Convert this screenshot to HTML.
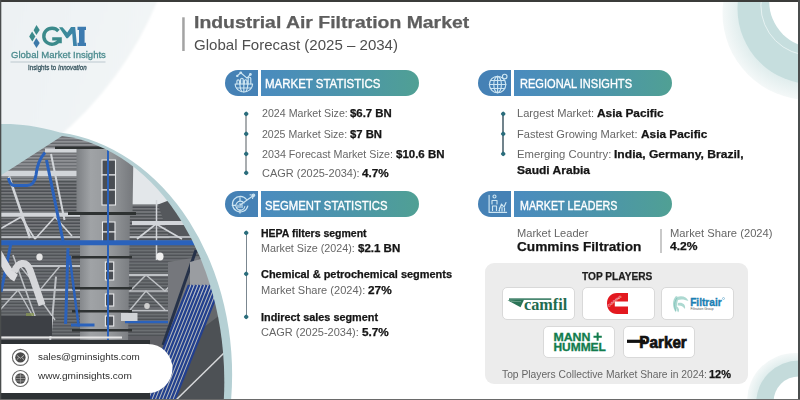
<!DOCTYPE html>
<html><head><meta charset="utf-8">
<style>
*{margin:0;padding:0;box-sizing:border-box}
html,body{width:800px;height:400px;overflow:hidden;background:#fff}
body{position:relative;font-family:"Liberation Sans",sans-serif}
.t{position:absolute;white-space:nowrap;line-height:1;transform-origin:0 0}
.t b{color:#111;font-weight:700}
.abs{position:absolute}
.pill{position:absolute;height:26px;border-radius:13px;overflow:hidden;display:flex}
.pill .ic{width:33px;background:#4581b5;flex:none}
.pill .sep{width:3px;background:#fff;flex:none}
.pill .tx{flex:1;background:linear-gradient(90deg,#4a8bbf 0%,#4c95aa 55%,#50a094 100%)}
.rail{position:absolute;width:1.6px;background:#a9adb0}
.dot{position:absolute;width:4.4px;height:4.4px;background:#2b6d7c;transform:rotate(45deg);border-radius:1.3px}
.logo{position:absolute;background:#fff;border:1px solid #d9d9d9;border-radius:5px}
</style></head><body>
<svg class="abs" style="left:0;top:0" width="800" height="400" viewBox="0 0 800 400">
  <defs>
    <linearGradient id="bgl" x1="0" y1="0" x2="1" y2="0.3">
      <stop offset="0" stop-color="#ecf1f3"/>
      <stop offset="1" stop-color="#f2f5f6"/>
    </linearGradient>
    <clipPath id="photoclip"><path d="M0,176 L62,136.1 A177.8,246.3 0 0,1 223.8,400 L0,400 Z"/></clipPath>
    <linearGradient id="duct" x1="0" y1="0" x2="1" y2="0">
      <stop offset="0" stop-color="#7c7f83"/>
      <stop offset="0.25" stop-color="#a0a3a6"/>
      <stop offset="0.6" stop-color="#95989b"/>
      <stop offset="1" stop-color="#75787c"/>
    </linearGradient>
    <linearGradient id="photobg" x1="0" y1="0" x2="0" y2="1">
      <stop offset="0" stop-color="#76787b"/>
      <stop offset="0.5" stop-color="#5a5c60"/>
      <stop offset="1" stop-color="#3e4044"/>
    </linearGradient>
    <pattern id="roof" width="10" height="3.2" patternUnits="userSpaceOnUse">
      <rect width="10" height="3.2" fill="#8f9195"/>
      <rect y="1.9" width="10" height="1.3" fill="#63666a"/>
    </pattern>
    <pattern id="roofm" width="10" height="3.2" patternUnits="userSpaceOnUse">
      <rect width="10" height="3.2" fill="#76787c"/>
      <rect y="1.7" width="10" height="1.5" fill="#4c4f53"/>
    </pattern>
    <pattern id="roof2" width="10" height="3.2" patternUnits="userSpaceOnUse">
      <rect width="10" height="3.2" fill="#6c6f73"/>
      <rect y="1.9" width="10" height="1.3" fill="#4f5256"/>
    </pattern>
    <filter id="blur1" x="-10%" y="-10%" width="120%" height="120%"><feGaussianBlur stdDeviation="1.2"/></filter>
    <filter id="soft" x="-5%" y="-5%" width="110%" height="110%"><feGaussianBlur stdDeviation="0.45"/></filter>
    <radialGradient id="ringfade" cx="809.2" cy="13.2" r="86.7" gradientUnits="userSpaceOnUse">
      <stop offset="0.8" stop-color="#e0eded"/>
      <stop offset="1" stop-color="#f4f8f8"/>
    </radialGradient>
    <radialGradient id="ringfade2" cx="795" cy="401" r="48" gradientUnits="userSpaceOnUse">
      <stop offset="0.8" stop-color="#e0eded"/>
      <stop offset="1" stop-color="#f4f8f8"/>
    </radialGradient>
  </defs>
  <!-- top-left light bg -->
  <path d="M-10,-10 L162,-10 L157.8,0 A359.5,359.5 0 0 1 55,140 L-10,150 Z" fill="url(#bgl)" filter="url(#blur1)"/>
  <!-- top-right rings -->
  <circle cx="809.2" cy="13.2" r="86.7" fill="url(#ringfade)"/>
  <circle cx="812.8" cy="8.8" r="75.3" fill="#c6dede"/>
  <circle cx="811" cy="5.3" r="50.1" fill="none" stroke="#eaf4f4" stroke-width="0.9"/>
  <circle cx="815.5" cy="1.4" r="46.3" fill="#fff"/>
  <!-- bottom-right rings -->
  <circle cx="795" cy="401" r="48" fill="url(#ringfade2)"/>
  <circle cx="799.2" cy="403.5" r="43.1" fill="#c4dbdb"/>
  <circle cx="799" cy="401.8" r="25.4" fill="#fff"/>
  <!-- teal crescent -->
  <path d="M0,124 C15,123.5 35,125 60,132.5 A192.6,243.7 0 0,1 231.1,400 L0,400 Z" fill="#b5d0d4"/>
  <!-- photo -->
  <g clip-path="url(#photoclip)">
   <g filter="url(#soft)">
    <rect x="0" y="120" width="240" height="280" fill="#5e6165"/>
    <rect x="0" y="130" width="240" height="112" fill="url(#roof)"/>
    <rect x="0" y="180" width="240" height="62" fill="url(#roofm)"/>
    <rect x="0" y="246" width="240" height="90" fill="url(#roof2)"/>
    <!-- sky -->
    <polygon points="132,150 175,150 175,200 162,204.5 132,204.5" fill="#e3e7ea"/>
    <polygon points="158,204.5 175,198 200,240 170,240" fill="#55585c"/>
    <!-- trusses upper -->
    <g stroke="#d2d5d9" fill="none">
      <line x1="45" y1="150.5" x2="80" y2="150.5" stroke-width="4"/>
      <line x1="0" y1="173.5" x2="80" y2="173.5" stroke-width="5"/>
      <line x1="0" y1="214.8" x2="80" y2="214.8" stroke-width="4"/>
      <line x1="132" y1="223" x2="200" y2="223" stroke-width="4"/>
      <line x1="0" y1="237" x2="200" y2="237" stroke-width="1.4"/>
      <path d="M0,229 L21,217 M35,239 L21,217 M35,239 L55,217 L72,236" stroke-width="1.6"/>
      <path d="M137,239 L156,224 L182,239" stroke-width="1.6"/>
      <line x1="156.5" y1="200" x2="156.5" y2="260" stroke-width="1.5"/>
      <line x1="9" y1="176.5" x2="30" y2="238" stroke-width="2.5"/>
      <line x1="51" y1="154" x2="64.5" y2="220" stroke-width="2"/>
    </g>
    <!-- trusses lower -->
    <g stroke="#bfc2c6" fill="none">
      <line x1="15" y1="266" x2="84" y2="266" stroke-width="2"/>
      <line x1="0" y1="290" x2="86" y2="290" stroke-width="2.2"/>
      <line x1="0" y1="299" x2="86" y2="299" stroke-width="1.4"/>
      <line x1="125" y1="275" x2="190" y2="275" stroke-width="2.2"/>
      <line x1="125" y1="291" x2="180" y2="291" stroke-width="1.6"/>
      <line x1="125" y1="310.5" x2="175" y2="310.5" stroke-width="1.5"/>
      <path d="M20,266 L40,290 L60,266 M0,310 L18,290 L35,320 M40,299 L55,320" stroke-width="1.4"/>
      <path d="M130,291 L146,275 L165,291 L180,275 M130,310 L146,291 L165,310" stroke-width="1.4"/>
      <line x1="56" y1="276.7" x2="50" y2="342" stroke-width="2"/>
      <line x1="13" y1="255" x2="40" y2="330" stroke-width="1.6"/>
    </g>
    <!-- duct -->
    <path d="M76.5,149 L133.5,149 L132.5,213 L130,213 L128,345 L80,345 L80,213 L76.5,213 Z" fill="url(#duct)"/>
    <g fill="#2f3033">
      <rect x="55" y="146.5" width="82" height="2.5"/>
      <rect x="68" y="212" width="68" height="3"/>
      <rect x="72" y="256" width="60" height="2.5"/>
      <rect x="72" y="287" width="60" height="2.5"/>
      <rect x="72" y="310" width="60" height="2.5"/>
      <rect x="72" y="329" width="60" height="2.5"/>
    </g>
    <g fill="#4a4d52" stroke="#e6e8ea" stroke-width="1.1">
      <rect x="102" y="160" width="13.5" height="15"/>
      <rect x="102" y="175" width="13.5" height="15"/>
      <rect x="102" y="190" width="13.5" height="15"/>
      <rect x="102.5" y="222" width="12.5" height="10"/>
      <rect x="102.5" y="232" width="12.5" height="10"/>
      <rect x="105.4" y="262" width="8.3" height="9"/>
      <rect x="105.4" y="271" width="8.3" height="9"/>
      <rect x="105.4" y="294" width="8.3" height="12"/>
      <rect x="105.4" y="316" width="8.3" height="10"/>
    </g>
    <!-- blue -->
    <g fill="none" stroke="#2b62bc">
      <line x1="0" y1="242.8" x2="200" y2="242.8" stroke-width="5"/>
      <line x1="108" y1="140" x2="108" y2="345" stroke-width="2"/>
      <path d="M45,152.5 C40,158 37,166 36,175 C35,182 32,185.5 27,185.5 L14,185.5 C10,185 9,181 8.4,178" stroke-width="3"/>
      <line x1="46.5" y1="160" x2="63" y2="241" stroke-width="3"/>
      <line x1="11" y1="243" x2="1" y2="292" stroke-width="3"/>
      <line x1="68" y1="248" x2="65.6" y2="324" stroke-width="3"/>
      <line x1="69.5" y1="255.7" x2="78.7" y2="326.6" stroke-width="2.5"/>
      <line x1="71" y1="325" x2="94.5" y2="325" stroke-width="3"/>
      <line x1="125" y1="322" x2="190" y2="322" stroke-width="2.5"/>
    </g>
    <!-- white hose -->
    <path d="M-2,253 C4,262 8,274 16,278" fill="none" stroke="#dcdde0" stroke-width="8"/>
    <path d="M14,272 C18,262 26,260 30,270 L42,305" fill="none" stroke="#d6d7da" stroke-width="7"/>
    <rect x="26" y="313" width="8" height="8" fill="#8a9a50" opacity="0.7"/>
    <!-- lights -->
    <ellipse cx="39.5" cy="257" rx="3.2" ry="3.6" fill="#e6e6e6"/>
    <ellipse cx="160" cy="256.5" rx="3.6" ry="4" fill="#f0f0f0"/>
    <ellipse cx="147" cy="306" rx="2.8" ry="3" fill="#cfcfcf"/>
    <rect x="121" y="313" width="16.5" height="8" fill="#d0d3d6"/>
    <!-- right building -->
    <polygon points="168,262 240,250 240,400 168,400" fill="#74777b"/>
    <polygon points="194.5,281 208.8,276 208.8,309 194.5,309" fill="#a6a9ac"/>
    <line x1="196" y1="250" x2="163" y2="345" stroke="#26324a" stroke-width="3"/>
    <polygon points="165,345 200,255 240,250 240,400 150,400" fill="#65686c"/>
    <polygon points="200,330 240,300 240,400 170,400" fill="#4e5155"/>
    <polygon points="190,262 215,255 215,290 190,300" fill="#9a9da1"/>
    <g stroke="#233f8f" stroke-width="2.3">
      <line x1="189.0" y1="285" x2="143.0" y2="400"/>
      <line x1="192.5" y1="285" x2="146.5" y2="400"/>
      <line x1="196.0" y1="285" x2="150.0" y2="400"/>
      <line x1="199.5" y1="285" x2="153.5" y2="400"/>
      <line x1="203.0" y1="285" x2="157.0" y2="400"/>
      <line x1="206.5" y1="285" x2="160.5" y2="400"/>
      <line x1="210.0" y1="285" x2="164.0" y2="400"/>
      <line x1="213.5" y1="285" x2="167.5" y2="400"/>
      <line x1="217.0" y1="285" x2="171.0" y2="400"/>
      <line x1="220.5" y1="285" x2="174.5" y2="400"/>
    </g>
    <g stroke="#b9c3d3" stroke-width="0.9">
      <line x1="190.8" y1="285" x2="144.8" y2="400"/>
      <line x1="194.2" y1="285" x2="148.2" y2="400"/>
      <line x1="197.8" y1="285" x2="151.8" y2="400"/>
      <line x1="201.2" y1="285" x2="155.2" y2="400"/>
      <line x1="204.8" y1="285" x2="158.8" y2="400"/>
      <line x1="208.2" y1="285" x2="162.2" y2="400"/>
      <line x1="211.8" y1="285" x2="165.8" y2="400"/>
      <line x1="215.2" y1="285" x2="169.2" y2="400"/>
      <line x1="218.8" y1="285" x2="172.8" y2="400"/>
    </g>
    <line x1="225" y1="352" x2="176" y2="400" stroke="#d6d8da" stroke-width="1.5"/>
    <rect x="0" y="316" width="52" height="20" fill="#3e4044"/>
    <rect x="0" y="340" width="150" height="60" fill="#2f3135"/>
    <line x1="0" y1="337.5" x2="122" y2="337.5" stroke="#e6e6e6" stroke-width="1.8"/>
   </g>
  </g>
  <!-- contact pill -->
  <path d="M0,344 L148,344 A24.5,24.5 0 0 1 148,393 L0,393 Z" fill="#fff"/>
  <g>
    <circle cx="20.4" cy="357.4" r="8" fill="none" stroke="#666" stroke-width="1.1"/>
    <circle cx="20.4" cy="357.4" r="5.2" fill="#4a4a4a"/>
    <path d="M16.8,355.3 L20.4,358.3 L24,355.3 M16.8,359.6 L18.8,357.8 M24,359.6 L22,357.8" stroke="#ddd" stroke-width="0.7" fill="none"/>
    <circle cx="20.4" cy="378.5" r="8" fill="none" stroke="#666" stroke-width="1.1"/>
    <circle cx="20.4" cy="378.5" r="5.2" fill="#4a4a4a"/>
    <path d="M15.2,378.5 H25.6 M20.4,373.3 V383.7 M16,376 H24.8 M16,381 H24.8" stroke="#bbb" stroke-width="0.6" fill="none"/>
  </g>
  <!-- header bar -->
  <rect x="182.2" y="17.3" width="2.5" height="33.7" fill="#a3a3a3"/>
  <!-- logo -->
  <polygon points="36.5,25.1 39.7,30 36.4,34.9 33.6,30.2" fill="#3b8a8b"/>
  <polygon points="32.1,31.4 35.4,36.4 32.3,41.6 29.2,36.6" fill="#3b8a8b"/>
  <polygon points="36.3,38.1 39.7,43 36.5,47.9 33.4,43" fill="#3c79a9"/>
  <rect x="10.5" y="61.6" width="95" height="0.8" fill="#aebfc6"/>
  <!-- rails -->
  <!-- players box -->
  <rect x="485" y="263" width="263" height="121" rx="9" fill="#ececec"/>
  <!-- borders -->
  <rect x="0" y="0" width="800" height="2" fill="#3b3c3a"/>
  <rect x="0" y="0" width="1.3" height="400" fill="#4a4d4d"/>
  <rect x="798" y="0" width="2" height="400" fill="#4a4d4d"/>
  <rect x="0" y="399" width="800" height="1" fill="#6a6a6a"/>
</svg>
<svg class="abs" style="left:0;top:0" width="100" height="60" viewBox="0 0 100 60">
  <defs><linearGradient id="mg" x1="0" y1="0" x2="1" y2="0"><stop offset="0" stop-color="#3b8f90"/><stop offset="1" stop-color="#3d82ad"/></linearGradient></defs>
  <path d="M58.4,31 A8.3,8 0 1 0 59.6,39.6" fill="none" stroke="#3b8a8b" stroke-width="3.4"/>
  <path d="M52.2,37.2 H61.8 V43.2 H58.4 V40.4 H52.2 Z" fill="#3b8a8b"/>
  <path d="M59,27.2 L62.5,27.2 L67.2,32.5 L71,27.1 L75.2,27.1 L77,45.9 L73.2,45.9 L72.2,33.5 L67.8,38.2 L66.4,38.2 Z" fill="url(#mg)"/>
  <path d="M77.5,26.8 H86 V30 H84.6 V42.7 H86 V45.9 H77.5 V42.7 H79 V30 H77.5 Z" fill="#3d7bb0"/>
</svg>
<div class="pill" style="left:225px;top:70px;width:194px"><div class="ic"></div><div class="sep"></div><div class="tx"></div></div>
<div class="pill" style="left:478px;top:70px;width:194px"><div class="ic"></div><div class="sep"></div><div class="tx"></div></div>
<div class="pill" style="left:225px;top:190.6px;width:194px;height:26.8px;border-radius:13.4px"><div class="ic"></div><div class="sep"></div><div class="tx"></div></div>
<div class="pill" style="left:478px;top:190.6px;width:194px;height:26.8px;border-radius:13.4px"><div class="ic"></div><div class="sep"></div><div class="tx"></div></div>
<div class="rail" style="left:245.2px;top:114px;height:60px;width:1.5px"></div>
<div class="dot" style="left:243.5px;top:111.8px"></div>
<div class="dot" style="left:243.5px;top:132.3px"></div>
<div class="dot" style="left:243.5px;top:152px"></div>
<div class="dot" style="left:243.5px;top:171.3px"></div>
<div class="rail" style="left:502.4px;top:114px;height:41px;width:1.2px;background:#71838c"></div>
<div class="dot" style="left:500.5px;top:111.5px"></div>
<div class="dot" style="left:500.5px;top:132.1px"></div>
<div class="dot" style="left:500.5px;top:152.1px"></div>
<div class="rail" style="left:245.7px;top:233px;height:84px;width:1.3px;background:#7b8790"></div>
<div class="dot" style="left:244px;top:230.5px"></div>
<div class="dot" style="left:244px;top:272px"></div>
<div class="dot" style="left:244px;top:314.5px"></div>
<div class="abs" style="left:660px;top:229px;width:1.5px;height:23.5px;background:#c9c9c9"></div>
<div class="logo" style="left:502px;top:287px;width:73px;height:33px"></div>
<div class="logo" style="left:581.5px;top:287px;width:73px;height:33px"></div>
<div class="logo" style="left:661px;top:287px;width:73px;height:33px"></div>
<div class="logo" style="left:542.5px;top:326px;width:72px;height:32px"></div>
<div class="logo" style="left:622.5px;top:326px;width:72px;height:32px"></div>
<svg class="abs" style="left:0;top:0;pointer-events:none" width="800" height="400" viewBox="0 0 800 400">
  <g fill="none" stroke="#cde5f2" stroke-width="1.15" stroke-linecap="round" stroke-linejoin="round">
    <!-- MS icon -->
    <polyline points="237.3,75.9 240.75,72.8 247,78.1 250.4,74.4"/>
    <circle cx="240.75" cy="72.8" r="0.8" fill="#cde5f2"/><circle cx="250.4" cy="74.4" r="0.8" fill="#cde5f2"/><circle cx="237.3" cy="75.9" r="0.6" fill="#cde5f2"/>
    <path d="M236.9,84 V81.2 a1.3,1.3 0 0 1 2.6,0 V84 M240.6,84 V79.6 a1.3,1.3 0 0 1 2.6,0 V84 M244.4,84 V81 a1.3,1.3 0 0 1 2.6,0 V84 M248.2,84 V78.6 a1.3,1.3 0 0 1 2.6,0 V84"/>
    <path d="M235.1,84 H252.6 A8.75,8 0 0 1 235.1,84 Z"/>
    <path d="M243.85,84 V92 M236.5,88 H251.2 M239.8,84 Q240.3,89.5 241.8,91.7 M247.9,84 Q247.4,89.5 245.9,91.7"/>
    <!-- RI icon -->
    <circle cx="497.6" cy="84.5" r="8.2"/>
    <ellipse cx="497.6" cy="84.5" rx="3.8" ry="8.2"/>
    <path d="M497.6,76.3 V92.7 M489.4,84.5 H505.8 M490.5,80.5 H504.7 M490.5,88.5 H504.7"/>
    <circle cx="504.7" cy="76.5" r="2.3" fill="#4480b3"/>
    <!-- SS icon -->
    <path d="M246.5,199.5 A7.8,7.8 0 1 0 247.8,206"/>
    <path d="M244,203 A4.5,4.5 0 1 0 244.8,206.5"/>
    <path d="M232.2,205.3 H235.5 M240,213.1 V209.8 M240,197.5 V200.8"/>
    <path d="M238,207.5 V205 M240,207.5 V203.5 M242,207.5 V204.5"/>
    <path d="M240.5,204.8 L252,196.5 M250,194.8 L253.5,195.5 L252.5,198.5"/>
    <circle cx="253.5" cy="195.3" r="1.2"/>
    <!-- ML icon -->
    <polyline points="489.1,195.2 489.1,212.4 506.6,212.4"/>
    <circle cx="494.5" cy="196.5" r="1.5"/>
    <path d="M492,204 V200.5 H497 V204 M492.5,210.5 V206 H496.5 V210.5"/>
    <path d="M499,210.5 L501.5,204 L504,207 L506,202.5 M499.5,211 V208 M502,211 V207 M504.5,211 V208"/>
  </g>
  <!-- camfil -->
  <rect x="509" y="298.4" width="42.3" height="1.4" fill="#1f6b4f"/>
  <polygon points="507.5,300.2 524,299.8 520.5,307.3" fill="#2b7457"/>
  <line x1="511" y1="301.4" x2="521" y2="301.6" stroke="#9cc3b1" stroke-width="0.5"/>
  <text x="524" y="310.2" font-family="Liberation Serif" font-weight="700" font-size="16.5" fill="#1f6b4f" textLength="43.3" lengthAdjust="spacingAndGlyphs">camfil</text>
  <!-- cummins -->
  <path d="M628,292.9 H617 C611,292.9 607,297.5 607,303.4 C607,309.3 611,313.9 617,313.9 H628 V306.6 H614.8 V301.6 H628 Z" fill="#e3191f"/>
  <text x="609" y="307" font-family="Liberation Sans" font-size="3.4" fill="#fff" transform="rotate(-38 609 307)">CUMMINS</text>
  <!-- filtrair -->
  <g fill="#9fd3ca" opacity="0.85">
    <path d="M676,296 C672,300 672,307 676,312.5 C677,307 677,301 679,297.5 Z"/>
    <path d="M677,297 C682,295 687,297 688.4,301 C685,299.5 681,299 678,300 Z"/>
    <path d="M678,303 C682,302 686,304 685,309 C683,306 680,305 677.5,305.5 Z"/>
    <path d="M676.5,306 C679,308 680,310.5 678,312.5 C677,310 676,308 675.5,307 Z"/>
  </g>
  <path d="M677,298 C674,302 674,307 676,311" fill="none" stroke="#5fb3a8" stroke-width="0.5"/>
  <circle cx="723.5" cy="298.5" r="1" fill="none" stroke="#1b7fb3" stroke-width="0.4"/>
  <text x="690.2" y="305.7" font-family="Liberation Sans" font-weight="700" font-size="10.4" fill="#1b7fb3" stroke="#1b7fb3" stroke-width="0.35" textLength="31.5" lengthAdjust="spacingAndGlyphs">Filtrair</text>
  <text x="690.5" y="309.5" font-family="Liberation Sans" font-size="2.8" fill="#555" textLength="23" lengthAdjust="spacingAndGlyphs">Filtration Group</text>
  <!-- mann+hummel -->
  <text x="553.4" y="340.6" font-family="Liberation Sans" font-weight="700" font-size="11" fill="#127c4d" textLength="37" lengthAdjust="spacingAndGlyphs" stroke="#127c4d" stroke-width="0.3">MANN</text>
  <path d="M593.5,336.7 H601.8 M597.65,332.6 V340.8" stroke="#127c4d" stroke-width="2"/>
  <text x="553.4" y="350.8" font-family="Liberation Sans" font-weight="700" font-size="11" fill="#127c4d" textLength="52.5" lengthAdjust="spacingAndGlyphs" stroke="#127c4d" stroke-width="0.3">HUMMEL</text>
  <!-- parker -->
  <rect x="627" y="339.7" width="18" height="3.2" fill="#111"/>
  <text x="639.3" y="348.4" font-family="Liberation Sans" font-weight="700" font-size="16.2" fill="#111" textLength="47.5" lengthAdjust="spacingAndGlyphs" stroke="#111" stroke-width="0.7">Parker</text>
</svg>
<div class="t" style="left:194.00px;top:15px;font-size:16.9px;font-weight:700;color:#5e5e5e;-webkit-text-stroke:0.25px currentColor;transform:scaleX(1.1484)">Industrial Air Filtration Market</div>
<div class="t" style="left:194.00px;top:38px;font-size:14.2px;font-weight:400;color:#4f4f4f;transform:scaleX(1.0601)">Global Forecast (2025 &ndash; 2034)</div>
<div class="t" style="left:264.60px;top:78px;font-size:12.6px;font-weight:400;color:#fff;-webkit-text-stroke:0.35px currentColor;transform:scaleX(0.9111)">MARKET STATISTICS</div>
<div class="t" style="left:520.00px;top:78px;font-size:12.6px;font-weight:400;color:#fff;-webkit-text-stroke:0.35px currentColor;transform:scaleX(0.8778)">REGIONAL INSIGHTS</div>
<div class="t" style="left:265.00px;top:200px;font-size:12.6px;font-weight:400;color:#fff;-webkit-text-stroke:0.35px currentColor;transform:scaleX(0.8977)">SEGMENT STATISTICS</div>
<div class="t" style="left:519.50px;top:200px;font-size:12.6px;font-weight:400;color:#fff;-webkit-text-stroke:0.35px currentColor;transform:scaleX(0.8512)">MARKET LEADERS</div>
<div class="t" style="left:261.50px;top:108px;font-size:10.5px;font-weight:400;color:#666666;transform:scaleX(1.0134)">2024 Market Size:&nbsp;</div>
<div class="t" style="left:350.22px;top:108px;font-size:10.5px;font-weight:700;color:#151515;-webkit-text-stroke:0.25px currentColor;transform:scaleX(1.0843)">$6.7 BN</div>
<div class="t" style="left:261.50px;top:129px;font-size:10.5px;font-weight:400;color:#666666;transform:scaleX(1.0059)">2025 Market Size:&nbsp;</div>
<div class="t" style="left:349.56px;top:129px;font-size:10.5px;font-weight:700;color:#151515;-webkit-text-stroke:0.25px currentColor;transform:scaleX(1.0763)">$7 BN</div>
<div class="t" style="left:261.50px;top:149px;font-size:10.5px;font-weight:400;color:#666666;transform:scaleX(1.0208)">2034 Forecast Market Size:&nbsp;</div>
<div class="t" style="left:395.55px;top:149px;font-size:10.5px;font-weight:700;color:#151515;-webkit-text-stroke:0.25px currentColor;transform:scaleX(1.0923)">$10.6 BN</div>
<div class="t" style="left:261.50px;top:168px;font-size:10.5px;font-weight:400;color:#666666;transform:scaleX(1.0459)">CAGR (2025-2034):&nbsp;</div>
<div class="t" style="left:362.21px;top:168px;font-size:10.5px;font-weight:700;color:#151515;-webkit-text-stroke:0.25px currentColor;transform:scaleX(1.1191)">4.7%</div>
<div class="t" style="left:517.00px;top:108px;font-size:10.5px;font-weight:400;color:#666666;transform:scaleX(1.0579)">Largest Market:&nbsp;</div>
<div class="t" style="left:597.27px;top:108px;font-size:10.5px;font-weight:700;color:#151515;-webkit-text-stroke:0.25px currentColor;transform:scaleX(1.1320)">Asia Pacific</div>
<div class="t" style="left:517.00px;top:129px;font-size:10.5px;font-weight:400;color:#666666;transform:scaleX(1.0534)">Fastest Growing Market:&nbsp;</div>
<div class="t" style="left:640.55px;top:129px;font-size:10.5px;font-weight:700;color:#151515;-webkit-text-stroke:0.25px currentColor;transform:scaleX(1.1271)">Asia Pacific</div>
<div class="t" style="left:517.00px;top:149px;font-size:10.5px;font-weight:400;color:#666666;transform:scaleX(1.0770)">Emerging Country:&nbsp;</div>
<div class="t" style="left:614.43px;top:149px;font-size:10.5px;font-weight:700;color:#151515;-webkit-text-stroke:0.25px currentColor;transform:scaleX(1.1524)">India, Germany, Brazil,</div>
<div class="t" style="left:517.00px;top:165px;font-size:10.5px;font-weight:700;color:#151515;-webkit-text-stroke:0.25px currentColor;transform:scaleX(1.1443)">Saudi Arabia</div>
<div class="t" style="left:261.00px;top:229px;font-size:10px;font-weight:700;color:#151515;-webkit-text-stroke:0.25px currentColor;transform:scaleX(1.0498)">HEPA filters segment</div>
<div class="t" style="left:261.00px;top:244px;font-size:10px;font-weight:400;color:#666666;transform:scaleX(1.0750)">Market Size (2024):&nbsp;</div>
<div class="t" style="left:357.80px;top:244px;font-size:10px;font-weight:700;color:#151515;-webkit-text-stroke:0.25px currentColor;transform:scaleX(1.1502)">$2.1 BN</div>
<div class="t" style="left:261.00px;top:270px;font-size:10px;font-weight:700;color:#151515;-webkit-text-stroke:0.25px currentColor;transform:scaleX(1.0945)">Chemical &amp; petrochemical segments</div>
<div class="t" style="left:261.00px;top:286px;font-size:10px;font-weight:400;color:#666666;transform:scaleX(1.1038)">Market Share (2024):&nbsp;</div>
<div class="t" style="left:368.36px;top:286px;font-size:10px;font-weight:700;color:#151515;-webkit-text-stroke:0.25px currentColor;transform:scaleX(1.1811)">27%</div>
<div class="t" style="left:261.00px;top:313px;font-size:10px;font-weight:700;color:#151515;-webkit-text-stroke:0.25px currentColor;transform:scaleX(1.0851)">Indirect sales segment</div>
<div class="t" style="left:261.00px;top:328px;font-size:10px;font-weight:400;color:#666666;transform:scaleX(1.0998)">CAGR (2025-2034):&nbsp;</div>
<div class="t" style="left:361.87px;top:328px;font-size:10px;font-weight:700;color:#151515;-webkit-text-stroke:0.25px currentColor;transform:scaleX(1.1768)">5.7%</div>
<div class="t" style="left:516.60px;top:228px;font-size:10.5px;font-weight:400;color:#666666;transform:scaleX(1.0546)">Market Leader</div>
<div class="t" style="left:516.60px;top:240px;font-size:13.1px;font-weight:700;color:#151515;-webkit-text-stroke:0.25px currentColor;transform:scaleX(1.0426)">Cummins Filtration</div>
<div class="t" style="left:670.00px;top:228px;font-size:10.5px;font-weight:400;color:#666666;transform:scaleX(1.0644)">Market Share (2024)</div>
<div class="t" style="left:670.00px;top:240px;font-size:11.6px;font-weight:700;color:#151515;-webkit-text-stroke:0.25px currentColor;transform:scaleX(1.0440)">4.2%</div>
<div class="t" style="left:581.60px;top:271px;font-size:10.9px;font-weight:700;color:#1e1e1e;-webkit-text-stroke:0.25px currentColor;transform:scaleX(0.9328)">TOP PLAYERS</div>
<div class="t" style="left:501.60px;top:369px;font-size:10.5px;font-weight:400;color:#666666;transform:scaleX(0.9782)">Top Players Collective Market Share in 2024:&nbsp;</div>
<div class="t" style="left:709.40px;top:369px;font-size:10.5px;font-weight:700;color:#151515;-webkit-text-stroke:0.25px currentColor;transform:scaleX(1.0467)">12%</div>
<div class="t" style="left:38.20px;top:352px;font-size:9.6px;font-weight:400;color:#2e2e2e;transform:scaleX(1.0306)">sales@gminsights.com</div>
<div class="t" style="left:38.20px;top:371px;font-size:9.6px;font-weight:400;color:#2e2e2e;transform:scaleX(1.0471)">www.gminsights.com</div>
<div class="t" style="left:10.50px;top:50px;font-size:9.8px;font-weight:400;color:#4b8b8e;-webkit-text-stroke:0.3px currentColor;transform:scaleX(0.9736)">Global Market Insights</div>
<div class="t" style="left:28.40px;top:64px;font-size:7px;font-weight:400;color:#3a5862;-webkit-text-stroke:0.3px currentColor;transform:scaleX(0.8856)">Insights to <i>Innovation</i></div>
</body></html>
